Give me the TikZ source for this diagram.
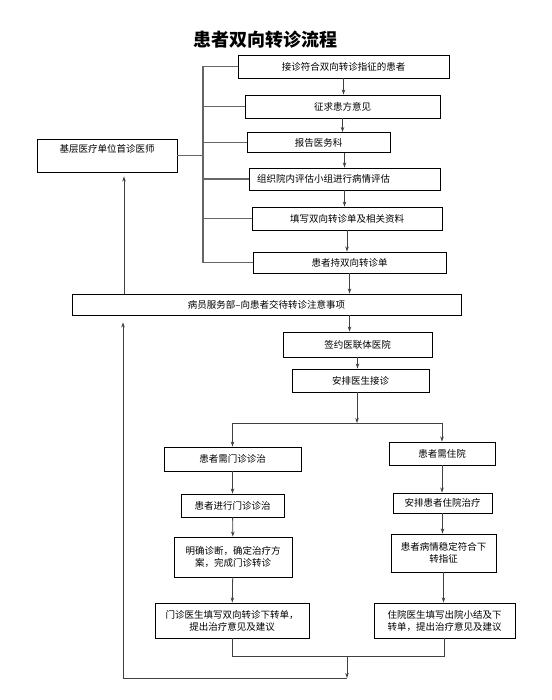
\documentclass[tikz,border=0pt]{standalone}
\usepackage{fontspec}
\setmainfont{Noto Sans CJK SC}
\usetikzlibrary{arrows.meta}

\begin{document}
\begin{tikzpicture}[
  x=1pt, y=-1pt,
  every node/.style={font=\fontsize{9.5}{12}\selectfont},
  box/.style={draw, line width=0.9pt, inner sep=0pt, align=center},
  arr/.style={draw=black!75, line width=0.8pt, -{Stealth[length=5pt,width=3.5pt]}},
  link/.style={draw=black!60, line width=1.3pt},
  joint/.style={draw=black!75, line width=0.9pt}
]
\useasboundingbox (0,0) rectangle (551,700);

% Title
\node[font=\fontsize{18}{20}\selectfont\bfseries] (title) at (265,40) {患者双向转诊流程};

% Upper column
\node[box, minimum width=211pt, minimum height=23pt] (b1) at (343.5,66.5) {接诊符合双向转诊指征的患者};
\node[box, minimum width=195pt, minimum height=23pt] (b2) at (342.5,106.5) {征求患方意见};
\node[box, minimum width=143pt, minimum height=20pt] (b3) at (318.5,142.5) {报告医务科};
\node[box, minimum width=191pt, minimum height=22pt, text width=175pt, inner xsep=8pt, align=left] (b4) at (344.5,179) {组织院内评估小组进行病情评估};
\node[box, minimum width=190pt, minimum height=23pt] (b5) at (347,218.5) {填写双向转诊单及相关资料};
\node[box, minimum width=193pt, minimum height=21pt] (b6) at (349.5,262.5) {患者持双向转诊单};

% Referring doctor
\node[box, minimum width=140pt, minimum height=33pt, text height=8pt, text depth=13pt, inner ysep=6pt] (lb) at (107,155.5) {基层医疗单位首诊医师};

% Middle
\node[box, minimum width=389pt, minimum height=21pt] (s1) at (266.5,304.5) {病员服务部--向患者交待转诊注意事项};
\node[box, minimum width=149pt, minimum height=25pt] (s2) at (357.5,344.5) {签约医联体医院};
\node[box, minimum width=137pt, minimum height=23pt] (s3) at (360.5,380.5) {安排医生接诊};

% Outpatient branch
\node[box, minimum width=137pt, minimum height=24pt] (L1) at (232.5,459) {患者需门诊诊治};
\node[box, minimum width=103pt, minimum height=23pt] (L2) at (232.5,505.5) {患者进行门诊诊治};
\node[box, minimum width=118pt, minimum height=40pt] (L3) at (233,557) {明确诊断，确定治疗方\\案，完成门诊转诊};
\node[box, minimum width=154pt, minimum height=35pt] (L4) at (232,620.5) {门诊医生填写双向转诊下转单，\\提出治疗意见及建议};

% Inpatient branch
\node[box, minimum width=106pt, minimum height=23pt] (R1) at (442,453.5) {患者需住院};
\node[box, minimum width=99pt, minimum height=20pt] (R2) at (442.5,503) {安排患者住院治疗};
\node[box, minimum width=105pt, minimum height=38pt] (R3) at (443.5,553) {患者病情稳定符合下\\转指征};
\node[box, minimum width=141pt, minimum height=35pt] (R4) at (444.5,620.5) {住院医生填写出院小结及下\\转单，提出治疗意见及建议};

% Helper points
\coordinate (brx) at (203,0);
\coordinate (upx) at (124,0);
\coordinate (split) at (357,423);
\coordinate (merge) at (347,656);
\coordinate (back) at (347,678);
\coordinate (ret) at (123,678);

% Bracket on the left of the upper column
\draw[link] (b1.west -| brx) -- (b6.west -| brx);
\foreach \b in {b1,b2,b3,b4,b5,b6}
  \draw[link] (\b.west) -- (\b.west -| brx);
\draw[link] (lb.east) -- (lb.east -| brx);

% Upper column arrows
\draw[arr] (b1.south) -- (b1.south |- b2.north);
\draw[arr] (b2.south) -- (b2.south |- b3.north);
\draw[arr] (b4.north |- b3.south) -- (b4.north);
\draw[arr] (b4.south) -- (b4.south |- b5.north);
\draw[arr] (b5.south) -- (b5.south |- b6.north);
\draw[arr] (b6.south) -- (b6.south |- s1.north);
\draw[arr, shorten >=4pt] (s1.north -| upx) -- (lb.south -| upx);

% Middle arrows
\draw[arr] (b6.south |- s1.south) -- (b6.south |- s2.north);
\draw[arr] (s2.south) -- (s2.south |- s3.north);
\draw[arr] (s3.south -| split) -- (split);
\draw[joint] (L1.north |- split) -- (R1.north |- split);
\draw[arr] (L1.north |- split) -- (L1.north);
\draw[arr] (R1.north |- split) -- (R1.north);

% Branch arrows
\draw[arr] (L1) -- (L2);
\draw[arr] (L2) -- (L3);
\draw[arr] (L3) -- (L4);
\draw[arr] (R1.south) -- (R2.north -| R1.south);
\draw[arr] (R2.south) -- (R3.north -| R2.south);
\draw[arr] (R3.south) -- (R4.north -| R3.south);

% Merge and return
\draw[joint] (L4.south) -- (L4.south |- merge) -- (R4.south |- merge) -- (R4.south);
\draw[arr] (merge) -- (back);
\draw[joint] (back) -- (ret);
\draw[arr, shorten >=7pt] (ret) -- (ret |- s1.south);

\end{tikzpicture}
\end{document}
